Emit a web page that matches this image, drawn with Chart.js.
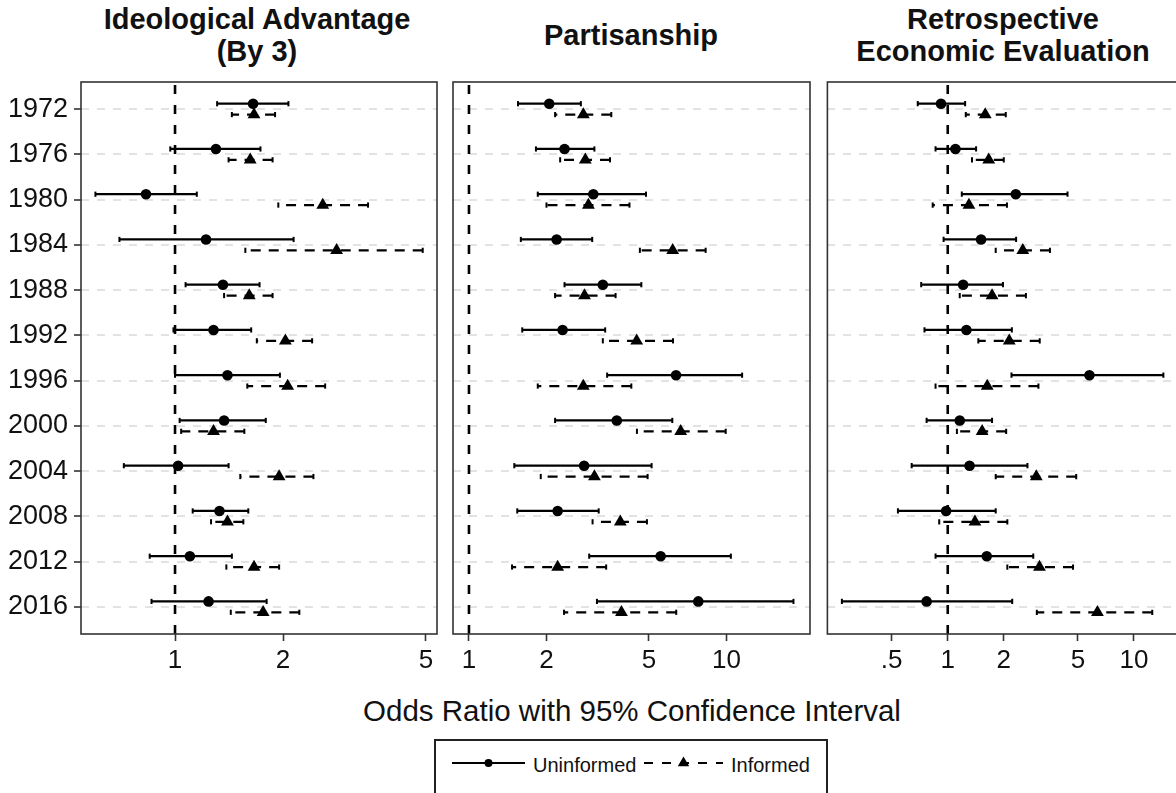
<!DOCTYPE html>
<html lang="en">
<head>
<meta charset="utf-8">
<title>Odds ratios by election year</title>
<script src="https://cdn.jsdelivr.net/npm/chart.js@4.4.1/dist/chart.umd.min.js"></script>
<style>
  html, body { margin: 0; padding: 0; background: #fff; }
  body { position: relative; width: 1176px; height: 793px; overflow: hidden;
         font-family: "Liberation Sans", Arial, sans-serif; color: #111; }
  canvas { position: absolute; top: 0; }
  .panel-title { position: absolute; transform: translateX(-50%); text-align: center;
                 font-weight: bold; font-size: 29px; line-height: 32px; white-space: nowrap; }
  #xlabel { position: absolute; left: 632px; top: 694px; transform: translateX(-50%);
            font-size: 29.5px; line-height: 34px; white-space: nowrap; }
  #legend { position: absolute; left: 434px; top: 739px; width: 390px; height: 70px;
            border: 2px solid #222; }
  .key { position: absolute; top: 0; }
  .key-label { position: absolute; top: 12px; font-size: 20px; line-height: 24px; white-space: nowrap; }
</style>
</head>
<body>
<div class="panel-title" style="left:257px; top:3px">Ideological Advantage<br>(By 3)</div>
<div class="panel-title" style="left:631px; top:19px">Partisanship</div>
<div class="panel-title" style="left:1003px; top:3px">Retrospective<br>Economic Evaluation</div>

<canvas id="ideo" width="445" height="680" style="left:0"></canvas>
<canvas id="party" width="375" height="680" style="left:445px"></canvas>
<canvas id="econ" width="367" height="680" style="left:820px"></canvas>

<div id="xlabel">Odds Ratio with 95% Confidence Interval</div>

<div id="legend">
  <svg class="key" style="left:16px" width="73" height="46">
    <line x1="0" y1="22" x2="73" y2="22" stroke="#000" stroke-width="2.2"/>
    <circle cx="36.5" cy="22" r="4" fill="#000"/>
  </svg>
  <span class="key-label" style="left:97px">Uninformed</span>
  <svg class="key" style="left:208px" width="79" height="46">
    <line x1="0" y1="22" x2="79" y2="22" stroke="#000" stroke-width="2.2" stroke-dasharray="9 9"/>
    <polygon points="39.5,15.5 45.2,25.3 33.8,25.3" fill="#000"/>
  </svg>
  <span class="key-label" style="left:295px">Informed</span>
</div>

<script>
const years = ['1972', '1976', '1980', '1984', '1988', '1992', '1996', '2000', '2004', '2008', '2012', '2016'];

// Ideological Advantage (By 3)
const ideoUninformed     = [1.65, 1.30, 0.83, 1.22, 1.36, 1.28, 1.40, 1.37, 1.02, 1.33, 1.10, 1.24];
const ideoUninformedLow  = [1.31, 0.97, 0.60, 0.70, 1.07, 0.99, 1.00, 1.03, 0.72, 1.12, 0.85, 0.86];
const ideoUninformedHigh = [2.07, 1.73, 1.15, 2.14, 1.72, 1.63, 1.96, 1.79, 1.41, 1.60, 1.44, 1.80];
const ideoInformed       = [1.66, 1.62, 2.58, 2.82, 1.61, 2.03, 2.06, 1.28, 1.95, 1.40, 1.66, 1.76];
const ideoInformedLow    = [1.44, 1.41, 1.94, 1.57, 1.37, 1.69, 1.59, 1.04, 1.52, 1.26, 1.39, 1.43];
const ideoInformedHigh   = [1.90, 1.87, 3.45, 4.90, 1.87, 2.41, 2.62, 1.56, 2.43, 1.55, 1.95, 2.22];
const ideoTicks = [1, 2, 5];
const ideoTickLabels = ['1', '2', '5'];

// Partisanship
const partyUninformed     = [2.05, 2.35, 3.04, 2.19, 3.31, 2.31, 6.37, 3.75, 2.80, 2.21, 5.55, 7.77];
const partyUninformedLow  = [1.55, 1.82, 1.85, 1.59, 2.35, 1.61, 3.44, 2.16, 1.50, 1.54, 2.93, 3.14];
const partyUninformedHigh = [2.72, 3.07, 4.87, 3.01, 4.67, 3.38, 11.5, 6.16, 5.12, 3.19, 10.4, 18.2];
const partyInformed       = [2.78, 2.83, 2.91, 6.18, 2.81, 4.48, 2.78, 6.64, 3.07, 3.87, 2.21, 3.91];
const partyInformedLow    = [2.16, 2.26, 2.00, 4.61, 2.16, 3.31, 1.85, 4.49, 1.90, 3.02, 1.47, 2.34];
const partyInformedHigh   = [3.57, 3.53, 4.20, 8.30, 3.71, 6.20, 4.27, 9.93, 4.94, 4.91, 3.41, 6.38];
const partyTicks = [1, 2, 5, 10];
const partyTickLabels = ['1', '2', '5', '10'];

// Retrospective Economic Evaluation
const econUninformed     = [0.92, 1.10, 2.32, 1.51, 1.21, 1.26, 5.77, 1.16, 1.31, 0.98, 1.62, 0.77];
const econUninformedLow  = [0.69, 0.86, 1.19, 0.95, 0.72, 0.75, 2.20, 0.77, 0.64, 0.54, 0.86, 0.27];
const econUninformedHigh = [1.24, 1.42, 4.40, 2.33, 1.98, 2.21, 14.4, 1.73, 2.68, 1.81, 2.88, 2.22];
const econInformed       = [1.59, 1.66, 1.30, 2.53, 1.73, 2.14, 1.63, 1.53, 2.99, 1.40, 3.11, 6.37];
const econInformedLow    = [1.25, 1.35, 0.83, 1.81, 1.16, 1.46, 0.86, 1.12, 1.81, 0.90, 2.09, 3.01];
const econInformedHigh   = [2.05, 2.00, 2.08, 3.54, 2.63, 3.12, 3.07, 2.06, 4.90, 2.09, 4.71, 12.55];
const econTicks = [0.5, 1, 2, 5, 10];
const econTickLabels = ['.5', '1', '2', '5', '10'];

const INK = '#000';
const TEXT = '#111';
const SHIFT = 0.12;   // vertical dodge of the two groups within a year row

Chart.defaults.font.family = '"Liberation Sans", Arial, sans-serif';
Chart.defaults.color = TEXT;

// box around each panel
const panelFrame = {
  id: 'panelFrame',
  afterDatasetsDraw(chart) {
    const a = chart.chartArea;
    const ctx = chart.ctx;
    ctx.save();
    ctx.strokeStyle = '#333';
    ctx.lineWidth = 1.6;
    ctx.strokeRect(a.left, a.top, a.right - a.left, a.bottom - a.top);
    ctx.restore();
  }
};

// interval lines run high -> low, one gap point between rows
function intervalPoints(low, high, shift) {
  const pts = [];
  years.forEach((_, i) => {
    pts.push({x: high[i], y: i + shift}, {x: low[i], y: i + shift}, {x: low[i], y: null});
  });
  return pts;
}

function estimatePoints(est, shift) {
  return years.map((_, i) => ({x: est[i], y: i + shift}));
}

function intervalDataset(low, high, shift, dash) {
  return {
    data: intervalPoints(low, high, shift),
    showLine: true,
    borderColor: INK,
    borderWidth: 2.3,
    borderDash: dash,
    pointStyle: 'line',
    rotation: 90,
    pointRadius: 2.6,
    pointBorderWidth: 2,
    pointBorderColor: INK,
    pointBackgroundColor: INK,
    order: 1
  };
}

function estimateDataset(est, shift, style, radius) {
  return {
    data: estimatePoints(est, shift),
    showLine: false,
    pointStyle: style,
    pointRadius: radius,
    pointBorderWidth: 0,
    pointBackgroundColor: INK,
    order: 0
  };
}

function drawPanel(id, p) {
  const datasets = [
    estimateDataset(p.uninformed, -SHIFT, 'circle', 5.3),
    estimateDataset(p.informed, SHIFT, 'triangle', 7.4),
    intervalDataset(p.uninformedLow, p.uninformedHigh, -SHIFT, []),
    intervalDataset(p.informedLow, p.informedHigh, SHIFT, [10, 8]),
    {
      // reference line at an odds ratio of 1
      data: [{x: 1, y: 11.6}, {x: 1, y: -0.6}],
      showLine: true,
      borderColor: INK,
      borderWidth: 2.6,
      borderDash: [9, 11],
      pointRadius: 0,
      order: 3
    }
  ];

  new Chart(document.getElementById(id), {
    type: 'scatter',
    data: {datasets},
    options: {
      responsive: false,
      animation: false,
      events: [],
      layout: {padding: {top: 82, bottom: 0, left: p.padLeft, right: p.padRight}},
      plugins: {legend: {display: false}, tooltip: {enabled: false}},
      scales: {
        x: {
          type: 'logarithmic',
          min: p.min,
          max: p.max,
          afterBuildTicks: s => { s.ticks = p.ticks.map(v => ({value: v})); },
          afterFit: s => { s.height = 46; },
          ticks: {
            autoSkip: false,
            maxRotation: 0,
            padding: 4,
            color: TEXT,
            font: {size: 26},
            callback: (v, i) => p.tickLabels[i]
          },
          grid: {drawOnChartArea: false, drawTicks: true, tickLength: 7, tickColor: '#333', tickWidth: 1.6},
          border: {display: false}
        },
        y: {
          type: 'linear',
          reverse: true,
          min: -0.6,
          max: 11.6,
          afterBuildTicks: s => { s.ticks = years.map((_, i) => ({value: i})); },
          afterFit: s => { s.width = p.showYears ? 81 : 0; },
          ticks: {
            display: p.showYears,
            autoSkip: false,
            padding: 6,
            color: TEXT,
            font: {size: 27},
            callback: v => years[v]
          },
          grid: {
            color: '#e3e3e3',
            lineWidth: 2,
            drawTicks: p.showYears,
            tickLength: 7,
            tickColor: '#333',
            tickWidth: 1.6,
            tickBorderDash: []
          },
          border: {display: false, dash: [8, 8]}
        }
      }
    },
    plugins: [panelFrame]
  });
}

drawPanel('ideo', {
  uninformed: ideoUninformed, uninformedLow: ideoUninformedLow, uninformedHigh: ideoUninformedHigh,
  informed: ideoInformed, informedLow: ideoInformedLow, informedHigh: ideoInformedHigh,
  ticks: ideoTicks, tickLabels: ideoTickLabels,
  min: 0.547, max: 5.37, padLeft: 0, padRight: 8, showYears: true
});

drawPanel('party', {
  uninformed: partyUninformed, uninformedLow: partyUninformedLow, uninformedHigh: partyUninformedHigh,
  informed: partyInformed, informedLow: partyInformedLow, informedHigh: partyInformedHigh,
  ticks: partyTicks, tickLabels: partyTickLabels,
  min: 0.867, max: 21.1, padLeft: 8, padRight: 10, showYears: false
});

drawPanel('econ', {
  uninformed: econUninformed, uninformedLow: econUninformedLow, uninformedHigh: econUninformedHigh,
  informed: econInformed, informedLow: econInformedLow, informedHigh: econInformedHigh,
  ticks: econTicks, tickLabels: econTickLabels,
  min: 0.2257, max: 17.6, padLeft: 5, padRight: 0, showYears: false
});
</script>
</body>
</html>
